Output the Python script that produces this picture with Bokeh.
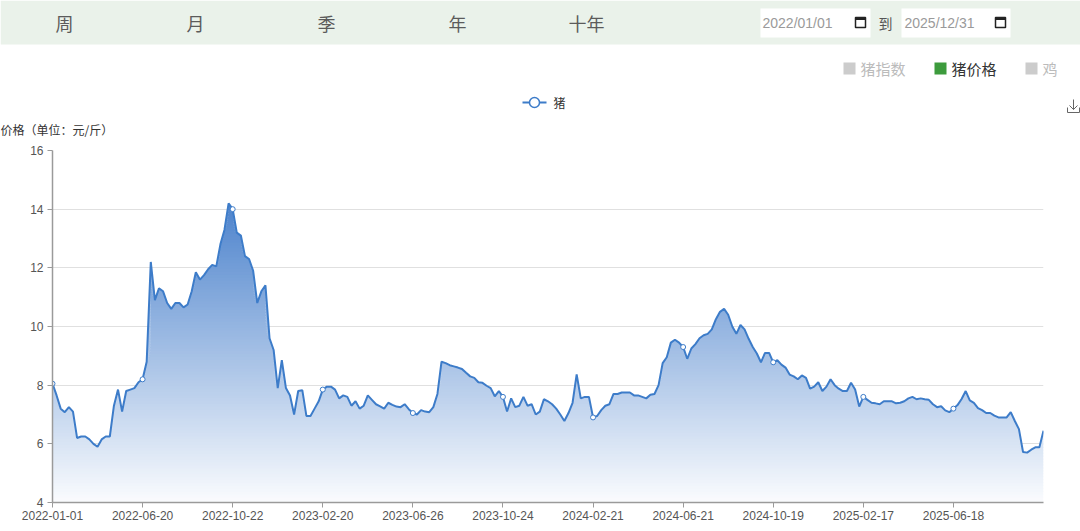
import numpy as np
from bokeh.plotting import figure
from bokeh.models import Range1d, FixedTicker
from bokeh.layouts import column
from bokeh.embed import file_html
from bokeh.resources import INLINE
from bokeh.core.properties import value

# ---------------- data ----------------
tabs = ["周", "月", "季", "年", "十年"]
date_from = "2022/01/01"
date_to = "2025/12/31"
date_sep = "到"
toggles = ["猪指数", "猪价格", "鸡"]
toggle_colors = ["#cccccc", "#3d9b3d", "#cccccc"]
toggle_text_colors = ["#bbbbbb", "#333333", "#bbbbbb"]
series_name = "猪"
y_title = "价格（单位：元/斤）"
y_ticks = [4, 6, 8, 10, 12, 14, 16]
tick_labels = ["2022-01-01", "2022-06-20", "2022-10-22", "2023-02-20", "2023-06-26",
               "2023-10-24", "2024-02-21", "2024-06-21", "2024-10-19", "2025-02-17",
               "2025-06-18"]
tick_step = 22
price = [
    8.05, 7.65, 7.2, 7.08, 7.25, 7.1, 6.2, 6.25, 6.25, 6.15,
    6.0, 5.9, 6.15, 6.25, 6.25, 7.3, 7.85, 7.1, 7.8, 7.85,
    7.9, 8.1, 8.2, 8.8, 12.2, 10.9, 11.3, 11.2, 10.8, 10.6,
    10.8, 10.8, 10.65, 10.75, 11.2, 11.85, 11.6, 11.75, 11.95, 12.1,
    12.05, 12.8, 13.3, 14.2, 14.0, 13.2, 13.1, 12.4, 12.3, 11.9,
    10.8, 11.2, 11.4, 9.6, 9.2, 7.9, 8.85, 7.9, 7.65, 7.0,
    7.8, 7.83, 6.95, 6.95, 7.2, 7.45, 7.85, 7.95, 7.95, 7.85,
    7.55, 7.65, 7.6, 7.3, 7.45, 7.2, 7.3, 7.65, 7.5, 7.35,
    7.28, 7.2, 7.4, 7.33, 7.27, 7.25, 7.35, 7.18, 7.05, 7.0,
    7.15, 7.1, 7.08, 7.25, 7.7, 8.8, 8.75, 8.68, 8.64, 8.6,
    8.55, 8.42, 8.3, 8.25, 8.1, 8.08, 7.98, 7.9, 7.62, 7.8,
    7.6, 7.1, 7.55, 7.25, 7.3, 7.6, 7.3, 7.35, 7.0, 7.1,
    7.52, 7.45, 7.35, 7.2, 7.0, 6.78, 7.05, 7.4, 8.37, 7.55,
    7.6, 7.6, 6.9, 6.95, 7.15, 7.3, 7.35, 7.7, 7.7, 7.75,
    7.75, 7.75, 7.65, 7.65, 7.6, 7.55, 7.67, 7.7, 8.0, 8.75,
    8.95, 9.45, 9.55, 9.45, 9.3, 8.9, 9.25, 9.4, 9.6, 9.7,
    9.75, 9.9, 10.25, 10.5, 10.6, 10.4, 10.0, 9.75, 10.05, 9.9,
    9.58, 9.3, 9.08, 8.78, 9.1, 9.1, 8.78, 8.85, 8.7, 8.6,
    8.36, 8.3, 8.2, 8.33, 8.25, 7.88, 7.95, 8.1, 7.8, 7.95,
    8.2, 8.0, 7.88, 7.8, 7.8, 8.08, 7.85, 7.27, 7.6, 7.5,
    7.4, 7.38, 7.35, 7.45, 7.45, 7.45, 7.38, 7.4, 7.45, 7.55,
    7.6, 7.52, 7.55, 7.52, 7.5, 7.35, 7.25, 7.28, 7.14, 7.08,
    7.2, 7.32, 7.53, 7.8, 7.48, 7.4, 7.22, 7.15, 7.05, 7.05,
    6.96, 6.9, 6.9, 6.9, 7.08, 6.78, 6.5, 5.72, 5.7, 5.8,
    5.88, 5.88, 6.45,
]

# ---------------- styles ----------------
CJK = value("Noto Sans CJK SC")
LAT = "Liberation Sans"
BLUE = "#3d7cc9"
FILL_RGB = (58, 118, 199)

# ---------------- header figure (page coordinates) ----------------
W = 1080
HDR_H = 142
hdr = figure(width=W, height=HDR_H, x_range=Range1d(0, W), y_range=Range1d(HDR_H, 0),
             output_backend="svg", toolbar_location=None,
             x_axis_location=None, y_axis_location=None, min_border=0)
hdr.frame_align = False
hdr.grid.visible = False
hdr.outline_line_color = None

hdr.quad(left=[0], right=[W], top=[0], bottom=[44], fill_color="#eaf2ea", line_color=None)
hdr.text(x=[64, 195, 326, 457, 586], y=[22] * 5, text=tabs, text_align="center",
         text_baseline="middle", text_font=CJK, text_font_size="18px", text_color="#5b5b5b")

# date inputs
hdr.quad(left=[760, 901], right=[870, 1010], top=[8, 8], bottom=[37, 37],
         fill_color="white", line_color=None)
hdr.text(x=[762, 904], y=[22, 22], text=[date_from, date_to], text_baseline="middle",
         text_font=value(LAT), text_font_size="14px", text_color="#9a9a9a")
hdr.quad(left=[855, 995], right=[865, 1005], top=[17, 17], bottom=[27, 27],
         fill_color=None, line_color="#222222", line_width=1.5)
hdr.quad(left=[855, 995], right=[865, 1005], top=[17, 17], bottom=[19.5, 19.5],
         fill_color="#222222", line_color=None)
hdr.text(x=[885], y=[22], text=[date_sep], text_align="center", text_baseline="middle",
         text_font=CJK, text_font_size="14px", text_color="#555555")

# toggles
hdr.rect(x=[849, 940, 1031], y=[68] * 3, width=12, height=12, fill_color=toggle_colors,
         line_color=None)
hdr.text(x=[860, 951, 1042], y=[68] * 3, text=toggles, text_baseline="middle",
         text_font=CJK, text_font_size="15px", text_color=toggle_text_colors)

# legend
hdr.line(x=[522, 546], y=[102, 102], line_color=BLUE, line_width=2)
hdr.scatter(x=[534], y=[102], marker="circle", size=10, fill_color="white",
            line_color=BLUE, line_width=1.5)
hdr.text(x=[553], y=[102], text=[series_name], text_baseline="middle",
         text_font=CJK, text_font_size="12px", text_color="#333333")

# download icon
hdr.line(x=[1073, 1073], y=[99, 109], line_color="#666666", line_width=1)
hdr.line(x=[1069, 1073, 1077], y=[105, 109, 105], line_color="#666666", line_width=1)
hdr.line(x=[1067, 1067, 1079, 1079], y=[107, 112, 112, 107], line_color="#666666", line_width=1)

# y axis title
hdr.text(x=[0], y=[129], text=[y_title], text_baseline="middle",
         text_font=CJK, text_font_size="12px", text_color="#333333")

# ---------------- main chart ----------------
n = len(price)
xs = np.arange(n)
ys = np.array(price)

p = figure(width=W, height=531 - HDR_H, x_range=Range1d(0, n - 1), y_range=Range1d(4, 16),
           output_backend="svg", toolbar_location=None,
           min_border_left=52, min_border_right=37, min_border_top=8, min_border_bottom=29)
p.frame_align = False
p.outline_line_color = None
p.xgrid.visible = False
p.ygrid.grid_line_color = "#e0e0e0"
p.ygrid.grid_line_width = 1

# vertical gradient area: opaque colour bands, each slightly overlapping the one below
ymax = ys.max()
step = 0.1
ov = 0.04
ts = np.arange(4.0, ymax, step)
a_bot, a_top = 0.02, 0.9
for t in ts:
    frac = min(1.0, (t + step / 2 - 4.0) / (ymax - 4.0))
    a = a_bot + (a_top - a_bot) * frac
    rgb = tuple(int(round(255 - a * (255 - c))) for c in FILL_RGB)
    col = "#%02x%02x%02x" % rgb
    lo = t - ov if t > 4.0 else 4.0
    y1 = np.minimum(lo, ys)
    y2 = np.minimum(ys, t + step)
    p.varea(x=xs, y1=y1, y2=y2, fill_color=col, fill_alpha=1.0)

p.line(xs, ys, line_color=BLUE, line_width=2)
tick_idx = [i * tick_step for i in range(len(tick_labels))]
p.scatter(x=tick_idx, y=ys[tick_idx], marker="circle", size=5, fill_color="white",
          line_color=BLUE, line_width=1)

p.xaxis.ticker = FixedTicker(ticks=tick_idx)
p.xaxis.major_label_overrides = {i: lab for i, lab in zip(tick_idx, tick_labels)}
p.yaxis.ticker = FixedTicker(ticks=y_ticks)
for ax in (p.xaxis[0], p.yaxis[0]):
    ax.axis_line_color = "#9a9a9a"
    ax.axis_line_width = 1.5
    ax.major_tick_line_color = "#9a9a9a"
    ax.major_tick_out = 5
    ax.major_tick_in = 0
    ax.minor_tick_line_color = None
    ax.major_label_text_font = LAT
    ax.major_label_text_font_size = "12px"
    ax.major_label_text_color = "#555555"
p.xaxis.major_label_standoff = 3
p.yaxis.major_label_standoff = 4

layout = column(hdr, p, spacing=0)
open("out.html", "w").write(file_html(layout, INLINE))
